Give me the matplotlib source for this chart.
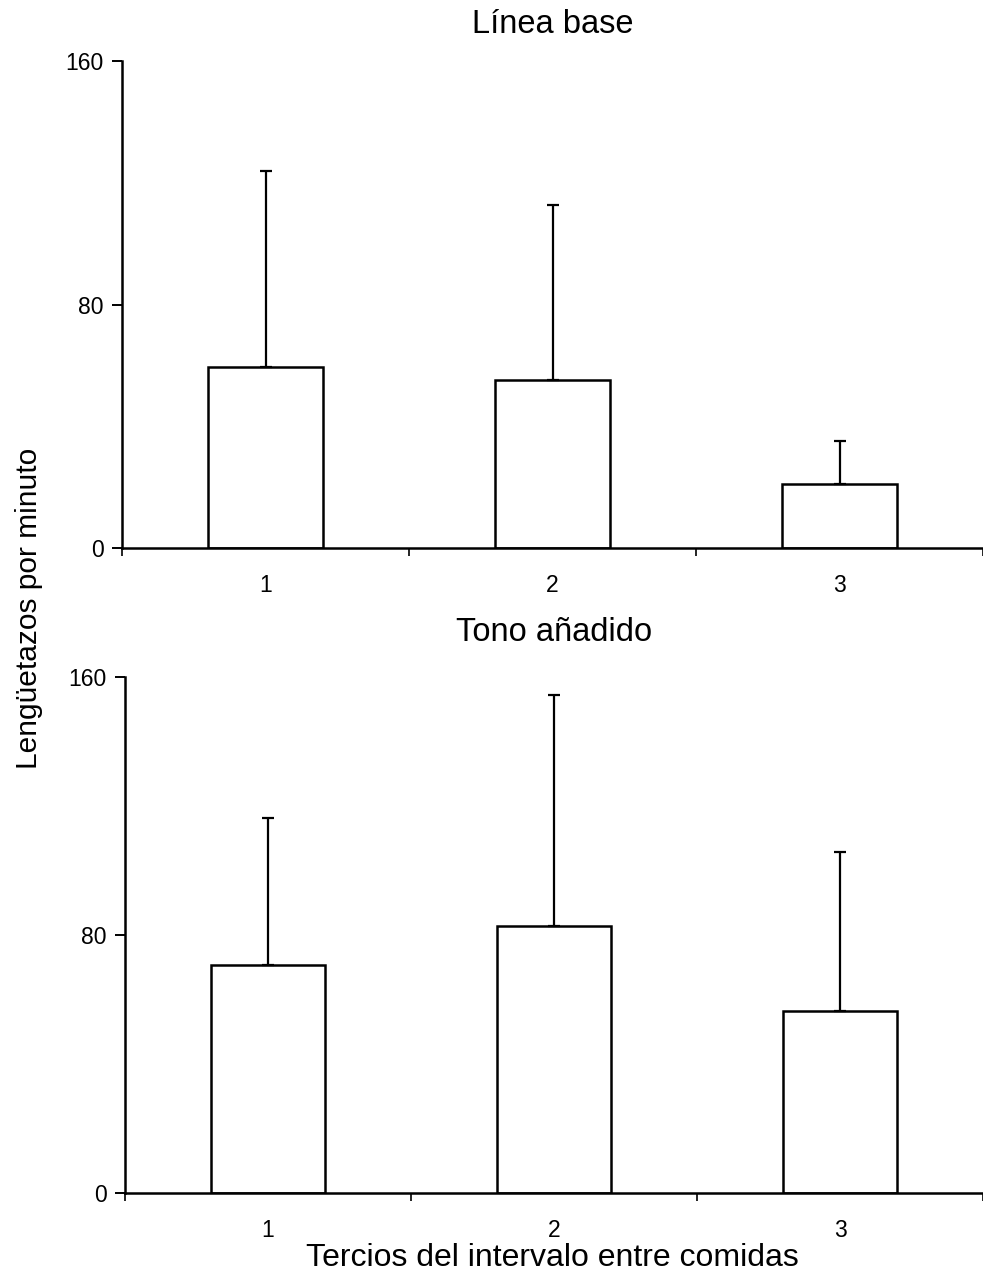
import numpy as np
import matplotlib.pyplot as plt

plt.rcParams['font.family'] = ['Liberation Sans', 'DejaVu Sans']

categories = ["1", "2", "3"]
baseline_means = [59.5, 55.2, 21.0]
baseline_err = [64.4, 57.5, 14.2]
tone_means = [70.7, 82.8, 56.4]
tone_err = [45.6, 71.6, 49.3]

fig = plt.figure(figsize=(9.83, 12.84), dpi=100)
ax1 = fig.add_axes([0.1241, 0.5732, 0.876, 0.3793])
ax2 = fig.add_axes([0.1272, 0.0709, 0.873, 0.4019])

x = np.arange(1, len(categories) + 1)

for ax, means, errs, title, tpad in [
    (ax1, baseline_means, baseline_err, "Línea base", 20),
    (ax2, tone_means, tone_err, "Tono añadido", 26),
]:
    ax.bar(x, means, width=0.4, color="white", edgecolor="black", linewidth=1.8,
           yerr=[np.zeros(len(errs)), errs], capsize=4,
           error_kw=dict(ecolor="black", elinewidth=1.6, capthick=1.6))
    ax.set_xlim(0.5, 3.5)
    ax.set_ylim(0, 160)
    ax.set_yticks([0, 80, 160])
    ax.set_xticks([0.5, 1.5, 2.5, 3.5])
    ax.set_xticklabels([])
    ax.set_xticks(x, minor=True)
    ax.set_xticklabels(categories, minor=True)
    ax.tick_params(axis="x", which="major", direction="out", length=6, width=1.2)
    ax.tick_params(axis="x", which="minor", length=0, pad=19, labelsize=16.5)
    ax.tick_params(axis="y", direction="out", length=7, width=1.4, labelsize=16.5, pad=6)
    ax.spines["top"].set_visible(False)
    ax.spines["right"].set_visible(False)
    ax.spines["left"].set_linewidth(1.8)
    ax.spines["bottom"].set_linewidth(1.8)
    ax.set_title(title, fontsize=23.5, pad=tpad)

fig.text(0.03, 0.526, "Lengüetazos por minuto", rotation=90, fontsize=21.5,
         ha="center", va="center")
fig.text(0.562, 0.020, "Tercios del intervalo entre comidas", fontsize=23,
         ha="center", va="center")

fig.savefig("out.png", dpi=100)
